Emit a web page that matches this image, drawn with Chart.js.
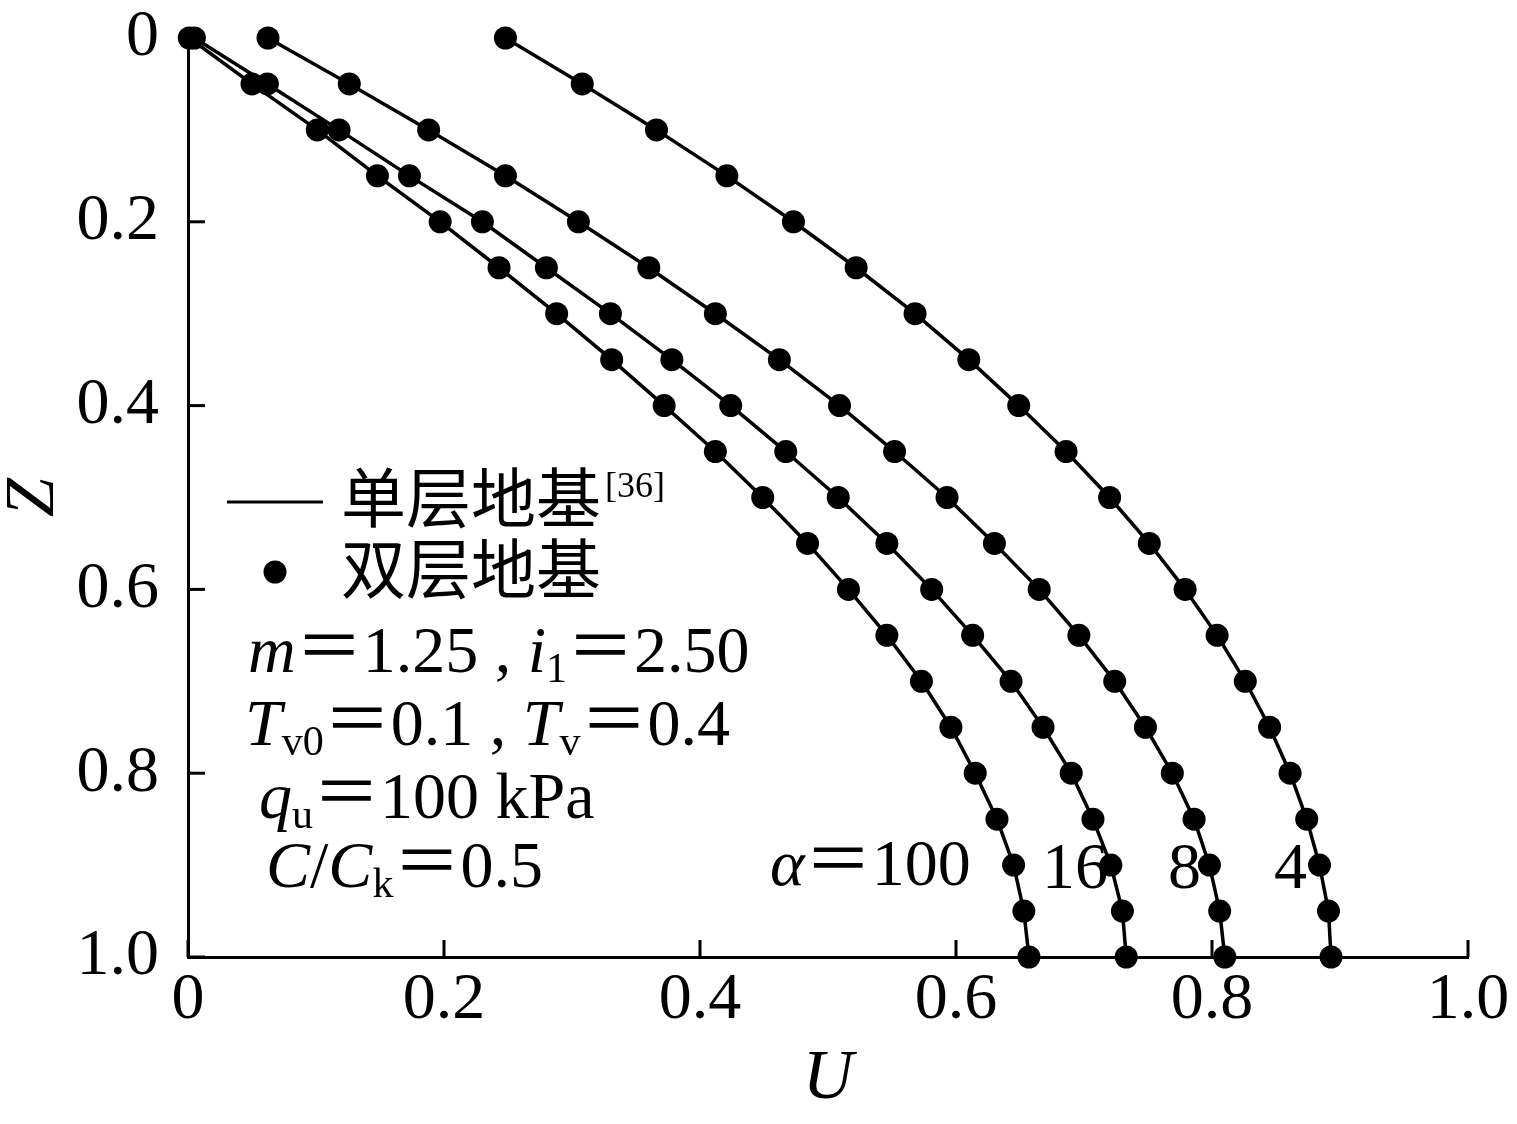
<!DOCTYPE html>
<html>
<head>
<meta charset="utf-8">
<script src="https://cdn.jsdelivr.net/npm/chart.js@4.4.1/dist/chart.umd.min.js"></script>
<style>
  html, body { margin: 0; padding: 0; background: #fff; }
  #wrap { width: 1517px; height: 1124px; position: relative; }
</style>
</head>
<body>
<div id="wrap"><canvas id="chartU"></canvas></div>
<script>
// depth Z (0 = top of layer) and degree of consolidation U for each alpha
var zVals = [0, 0.05, 0.1, 0.15, 0.2, 0.25, 0.3, 0.35, 0.4, 0.45, 0.5, 0.55, 0.6, 0.65, 0.7, 0.75, 0.8, 0.85, 0.9, 0.95, 1.0];
var uAlpha100 = [0.001, 0.050, 0.101, 0.148, 0.197, 0.243, 0.288, 0.331, 0.372, 0.412, 0.449, 0.484, 0.516, 0.546, 0.573, 0.596, 0.615, 0.632, 0.645, 0.653, 0.657];
var uAlpha16 = [0.005, 0.062, 0.118, 0.173, 0.230, 0.280, 0.330, 0.378, 0.424, 0.467, 0.508, 0.546, 0.581, 0.613, 0.643, 0.668, 0.690, 0.707, 0.721, 0.730, 0.733];
var uAlpha8 = [0.0625, 0.126, 0.188, 0.248, 0.305, 0.360, 0.412, 0.462, 0.509, 0.552, 0.593, 0.630, 0.665, 0.696, 0.724, 0.748, 0.769, 0.786, 0.798, 0.806, 0.810];
var uAlpha4 = [0.248, 0.308, 0.366, 0.421, 0.473, 0.522, 0.568, 0.610, 0.649, 0.686, 0.720, 0.751, 0.779, 0.804, 0.826, 0.845, 0.861, 0.874, 0.884, 0.891, 0.893];
var alphaLabels = ['100', '16', '8', '4'];
var xTicks = [0, 0.2, 0.4, 0.6, 0.8, 1.0];
var zTicks = [0, 0.2, 0.4, 0.6, 0.8, 1.0];
var legendNames = ['单层地基', '双层地基'];

var SERIF = '"Liberation Serif", "Noto Sans CJK SC", serif';
var CJK = '"Noto Sans CJK SC", sans-serif';
var fR = '66px ' + SERIF;
var fI = 'italic 66px ' + SERIF;
var fS = '42px ' + SERIF;
var fE = '67px ' + CJK;

function pts(u) {
    return u.map(function (v, i) { return { x: v, y: zVals[i] }; });
}
function fmt(v) {
    return v === 0 ? '0' : Number(v).toFixed(1);
}

var datasets = [];
[uAlpha100, uAlpha16, uAlpha8, uAlpha4].forEach(function (u, i) {
    datasets.push({
        label: legendNames[0] + ' α=' + alphaLabels[i],
        data: pts(u),
        showLine: true,
        borderColor: '#000',
        borderWidth: 3.5,
        pointRadius: 0,
        tension: 0,
        clip: false,
        order: 2
    });
    datasets.push({
        label: legendNames[1] + ' α=' + alphaLabels[i],
        data: pts(u),
        showLine: false,
        backgroundColor: '#000',
        borderWidth: 0,
        pointRadius: 11.5,
        clip: false,
        order: 1
    });
});

// write a run of text pieces one after another: [text, font, dy]
function drawRuns(ctx, x, y, runs) {
    runs.forEach(function (r) {
        ctx.font = r[1];
        ctx.fillText(r[0], x, y + (r[2] || 0));
        x += ctx.measureText(r[0]).width;
    });
}

var inwardTicks = {
    id: 'inwardTicks',
    beforeDatasetsDraw: function (chart) {
        var ctx = chart.ctx, a = chart.chartArea;
        var sx = chart.scales.x, sy = chart.scales.y;
        ctx.save();
        ctx.strokeStyle = '#000';
        ctx.lineWidth = 3;
        xTicks.forEach(function (v) {
            var px = sx.getPixelForValue(v);
            ctx.beginPath(); ctx.moveTo(px, a.bottom); ctx.lineTo(px, a.bottom - 17); ctx.stroke();
        });
        zTicks.forEach(function (v) {
            var py = sy.getPixelForValue(v);
            ctx.beginPath(); ctx.moveTo(a.left, py); ctx.lineTo(a.left + 17, py); ctx.stroke();
        });
        ctx.restore();
    }
};

var notes = {
    id: 'notes',
    afterDraw: function (chart) {
        var ctx = chart.ctx;
        ctx.save();
        ctx.fillStyle = '#000';
        ctx.strokeStyle = '#000';

        // legend
        ctx.lineWidth = 3;
        ctx.beginPath(); ctx.moveTo(227, 502); ctx.lineTo(323, 502); ctx.stroke();
        ctx.beginPath(); ctx.arc(275, 572, 11.5, 0, Math.PI * 2); ctx.fill();
        ctx.textBaseline = 'middle';
        ctx.font = '65px ' + CJK;
        ctx.fillText(legendNames[0], 341, 497);
        var w = ctx.measureText(legendNames[0]).width;
        ctx.fillText(legendNames[1], 341, 568);
        ctx.textBaseline = 'alphabetic';
        ctx.font = '36px ' + SERIF;
        ctx.fillText('[36]', 341 + w + 4, 497);

        // parameters
        drawRuns(ctx, 248, 672, [['m', fI], ['＝', fE, -2], ['1.25', fR], [' , ', fR], ['i', fI], ['1', fS, 10], ['＝', fE, -2], ['2.50', fR]]);
        drawRuns(ctx, 245, 745, [['T', fI], ['v0', fS, 10], ['＝', fE, -2], ['0.1', fR], [' , ', fR], ['T', fI], ['v', fS, 10], ['＝', fE, -2], ['0.4', fR]]);
        drawRuns(ctx, 259, 818, [['q', fI], ['u', fS, 10], ['＝', fE, -2], ['100 kPa', fR]]);
        drawRuns(ctx, 266, 887, [['C', fI], ['/', fR], ['C', fI], ['k', fS, 10], ['＝', fE, -2], ['0.5', fR]]);

        // curve labels
        drawRuns(ctx, 770, 885, [['α', fI], ['＝', fE, -2], [alphaLabels[0], fR]]);
        ctx.font = fR;
        ctx.fillText(alphaLabels[1], 1042, 888);
        ctx.fillText(alphaLabels[2], 1168, 888);
        ctx.fillText(alphaLabels[3], 1274, 888);
        ctx.restore();
    }
};

var tickFont = { family: SERIF, size: 66, lineHeight: 1 };

new Chart(document.getElementById('chartU'), {
    type: 'scatter',
    data: { datasets: datasets },
    options: {
        responsive: true,
        maintainAspectRatio: false,
        animation: false,
        layout: { autoPadding: false, padding: { top: 38, right: 49, left: 0, bottom: 0 } },
        plugins: { legend: { display: false }, tooltip: { enabled: false } },
        scales: {
            x: {
                type: 'linear', position: 'bottom', min: 0, max: 1,
                border: { display: true, color: '#000', width: 3 },
                grid: { display: false, drawTicks: false },
                ticks: { color: '#000', font: tickFont, padding: 11, maxRotation: 0, autoSkip: false, callback: fmt },
                afterBuildTicks: function (s) { s.ticks = xTicks.map(function (v) { return { value: v }; }); },
                afterFit: function (s) { s.height = 167; s.paddingLeft = 0; s.paddingRight = 0; },
                title: { display: true, text: 'U', color: '#000', font: { family: SERIF, size: 70, style: 'italic', lineHeight: 1.2 }, padding: { top: 0, bottom: 2 } }
            },
            y: {
                type: 'linear', position: 'left', min: 0, max: 1, reverse: true,
                border: { display: true, color: '#000', width: 3 },
                grid: { display: false, drawTicks: false },
                ticks: { color: '#000', font: tickFont, padding: 29, autoSkip: false, callback: fmt },
                afterBuildTicks: function (s) { s.ticks = zTicks.map(function (v) { return { value: v }; }); },
                afterFit: function (s) { s.width = 188; s.paddingTop = 0; s.paddingBottom = 0; },
                title: { display: true, text: 'Z', color: '#000', font: { family: SERIF, size: 70, style: 'italic', lineHeight: 1 }, padding: { top: 0, bottom: 0 } }
            }
        }
    },
    plugins: [inwardTicks, notes]
});
</script>
</body>
</html>
